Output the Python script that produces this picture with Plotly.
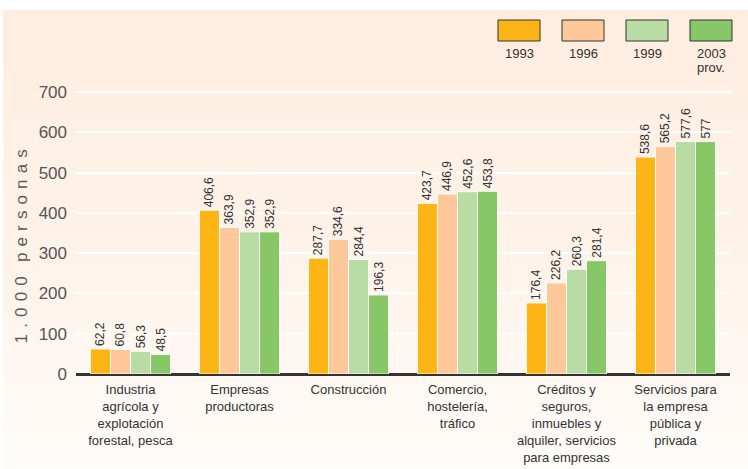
import base64
import plotly.graph_objects as go

categories = [
    "Industria<br>agrícola y<br>explotación<br>forestal, pesca",
    "Empresas<br>productoras",
    "Construcción",
    "Comercio,<br>hostelería,<br>tráfico",
    "Créditos y<br>seguros,<br>inmuebles y<br>alquiler, servicios<br>para empresas",
    "Servicios para<br>la empresa<br>pública y<br>privada",
]
years = ["1993", "1996", "1999", "2003"]
year_sub = ["", "", "", "prov."]
v1993 = [62.2, 406.6, 287.7, 423.7, 176.4, 538.6]
v1996 = [60.8, 363.9, 334.6, 446.9, 226.2, 565.2]
v1999 = [56.3, 352.9, 284.4, 452.6, 260.3, 577.6]
v2003 = [48.5, 352.9, 196.3, 453.8, 281.4, 577.0]
series = [v1993, v1996, v1999, v2003]
colors = ["#FDB515", "#FEC89B", "#B9DCA4", "#88C767"]
y_ticks = [0, 100, 200, 300, 400, 500, 600, 700]
y_title_parts = ["1.000", "personas"]

FONT = "Liberation Sans Narrow, Arial Narrow, Liberation Sans, Arial, sans-serif"


def fmt(v):
    s = ("%.1f" % v).replace(".", ",")
    if s.endswith(",0"):
        s = s[:-2]
    return s


def spaced(word):
    return "&nbsp;\u200a".join(list(word))


fig = go.Figure()
for name, vals, col in zip(years, series, colors):
    fig.add_trace(go.Bar(
        x=list(range(len(categories))), y=vals, name=name,
        marker=dict(color=col, line=dict(color="rgba(255,255,255,0.9)", width=1)),
        text=[fmt(v) for v in vals], textposition="outside", textangle=-90,
        textfont=dict(family=FONT, size=12, color="#333333"),
        constraintext="none", cliponaxis=False, showlegend=False,
    ))

W, H = 748, 469
L, R, T, B = 76, 18, 80, 95
pw, ph = W - L - R, H - T - B

svg = (
    '<svg xmlns="http://www.w3.org/2000/svg" width="748" height="469" viewBox="0 0 748 469" preserveAspectRatio="none">'
    '<defs><linearGradient id="g" x1="0" y1="0" x2="0" y2="1">'
    '<stop offset="0" stop-color="#FEEDDF"/><stop offset="0.55" stop-color="#FEF3EA"/>'
    '<stop offset="1" stop-color="#FFFCF9"/></linearGradient></defs>'
    '<rect x="0" y="0" width="748" height="469" fill="#FFFFFF"/>'
    '<rect x="3" y="10" width="745" height="459" fill="url(#g)"/></svg>'
)
src = "data:image/svg+xml;base64," + base64.b64encode(svg.encode()).decode()

fig.add_layout_image(dict(
    source=src, xref="paper", yref="paper",
    x=-L / pw, y=1 + T / ph, sizex=W / pw, sizey=H / ph,
    sizing="stretch", xanchor="left", yanchor="top", layer="below",
))

# legend boxes
box_x = [498, 562, 626, 690]
for bx, col, lab, sub in zip(box_x, colors, years, year_sub):
    fig.add_shape(type="rect", xref="paper", yref="paper",
                  x0=(bx - L) / pw, x1=(bx + 42 - L) / pw,
                  y0=1 + (T - 41) / ph, y1=1 + (T - 20) / ph,
                  fillcolor=col, line=dict(color="#333333", width=1))
    fig.add_annotation(xref="paper", yref="paper",
                       x=(bx + 21 - L) / pw, y=1 + (T - 53) / ph,
                       text=lab, showarrow=False, yanchor="middle", xanchor="center",
                       font=dict(family=FONT, size=13, color="#333333"))
    if sub:
        fig.add_annotation(xref="paper", yref="paper",
                           x=(bx + 21 - L) / pw, y=1 + (T - 67) / ph,
                           text=sub, showarrow=False, yanchor="middle", xanchor="center",
                           font=dict(family=FONT, size=13, color="#333333"))

# axis title
fig.add_annotation(xref="paper", yref="paper", x=-55 / pw, y=0.434,
                   text=(("&nbsp;" * 3).join(spaced(p) for p in y_title_parts)),
                   textangle=-90,
                   showarrow=False, xanchor="center", yanchor="middle",
                   font=dict(family=FONT, size=17, color="#5A5A5A"))

fig.update_layout(
    width=W, height=H,
    margin=dict(l=L, r=R, t=T, b=B, autoexpand=False),
    paper_bgcolor="rgba(0,0,0,0)",
    plot_bgcolor="#FDE5BB",
    barmode="group", bargap=0.265, bargroupgap=0,
    xaxis=dict(
        tickmode="array", tickvals=list(range(len(categories))), ticktext=categories,
        range=[-0.5, len(categories) - 0.5], showgrid=False, zeroline=False,
        showline=False, ticks="", ticklabelstandoff=6, automargin=False,
        tickfont=dict(family=FONT, size=13, color="#333333"),
    ),
    yaxis=dict(
        range=[0, 730], tickmode="array", tickvals=y_ticks,
        showgrid=True, gridcolor="#FFFFFF", gridwidth=1.5,
        zeroline=True, zerolinecolor="#333333", zerolinewidth=2.5,
        showline=False, ticks="", ticklabelstandoff=8, automargin=False,
        tickfont=dict(family=FONT, size=17, color="#555555"),
    ),
)

fig.write_html("out.html", config={"displayModeBar": False},
               post_script="document.body.style.margin='0px';")
